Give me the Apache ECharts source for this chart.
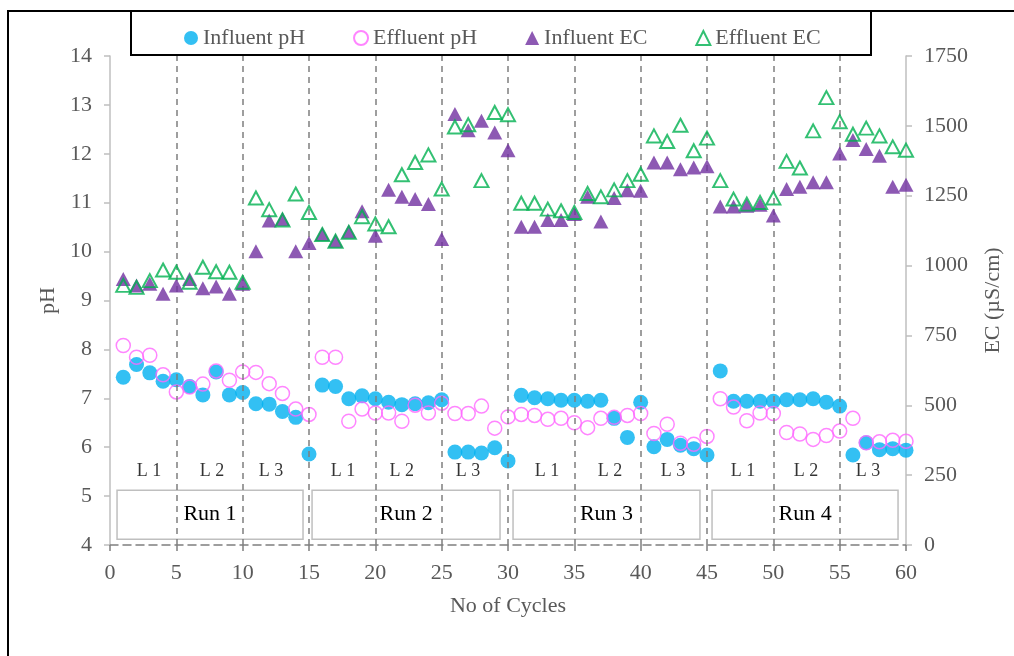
<!DOCTYPE html>
<html>
<head>
<meta charset="utf-8">
<title>pH and EC over cycles</title>
<script src="https://cdn.jsdelivr.net/npm/echarts@6/dist/echarts.min.js"></script>
<style>
  html, body { margin: 0; padding: 0; background: #fff; }
  #chart { width: 1014px; height: 656px; }
</style>
</head>
<body>
<div id="chart"></div>
<script>
// Cycle numbers 1..60
const cycles = [
  1, 2, 3, 4, 5, 6, 7, 8, 9, 10, 11, 12, 13, 14, 15,
  16, 17, 18, 19, 20, 21, 22, 23, 24, 25, 26, 27, 28, 29, 30,
  31, 32, 33, 34, 35, 36, 37, 38, 39, 40, 41, 42, 43, 44, 45,
  46, 47, 48, 49, 50, 51, 52, 53, 54, 55, 56, 57, 58, 59, 60
];

const influentPH = [
  7.43, 7.69, 7.52, 7.35, 7.38, 7.24, 7.07, 7.54, 7.07, 7.12, 6.89, 6.88, 6.73, 6.61, 5.86,
  7.27, 7.24, 6.99, 7.05, 6.99, 6.92, 6.87, 6.89, 6.91, 6.97, 5.90, 5.90, 5.88, 5.99, 5.72,
  7.06, 7.01, 6.99, 6.96, 6.96, 6.94, 6.96, 6.59, 6.20, 6.92, 6.01, 6.16, 6.04, 5.97, 5.84,
  7.56, 6.94, 6.94, 6.94, 6.94, 6.97, 6.97, 6.99, 6.92, 6.84, 5.84, 6.09, 5.95, 5.97, 5.94
];

const effluentPH = [
  8.08, 7.84, 7.88, 7.48, 7.13, 7.23, 7.29, 7.56, 7.37, 7.54, 7.53, 7.30, 7.10, 6.78, 6.67,
  7.84, 7.84, 6.53, 6.78, 6.70, 6.70, 6.53, 6.86, 6.70, 6.90, 6.69, 6.69, 6.84, 6.39, 6.62,
  6.67, 6.65, 6.57, 6.59, 6.50, 6.40, 6.59, 6.61, 6.65, 6.69, 6.28, 6.47, 6.08, 6.06, 6.22,
  6.99, 6.82, 6.54, 6.70, 6.69, 6.30, 6.27, 6.16, 6.24, 6.33, 6.59, 6.09, 6.11, 6.14, 6.12
];

// EC in µS/cm
const influentEC = [
  952, 929, 935, 899, 929, 952, 919, 925, 899, 935, 1051, 1161, 1167, 1051, 1081,
  1113, 1089, 1122, 1194, 1107, 1271, 1246, 1238, 1220, 1095, 1542, 1484, 1518, 1476, 1413,
  1139, 1139, 1163, 1163, 1185, 1246, 1158, 1242, 1270, 1268, 1369, 1369, 1345, 1351, 1355,
  1211, 1211, 1214, 1218, 1179, 1274, 1282, 1298, 1298, 1401, 1449, 1417, 1393, 1282, 1289
];

const effluentEC = [
  929, 922, 946, 984, 976, 940, 994, 978, 976, 940, 1242, 1200, 1163, 1256, 1190,
  1111, 1087, 1119, 1175, 1149, 1139, 1325, 1369, 1396, 1274, 1496, 1504, 1304, 1548, 1540,
  1223, 1223, 1202, 1196, 1190, 1258, 1246, 1271, 1304, 1327, 1464, 1444, 1502, 1411, 1456,
  1304, 1238, 1220, 1226, 1242, 1373, 1349, 1482, 1601, 1515, 1470, 1492, 1464, 1425, 1413
];

// Phase boundaries (every 5 cycles) and run / load annotations
const phaseBoundaries = [5, 10, 15, 20, 25, 30, 35, 40, 45, 50, 55];
const runNames = ['Run 1', 'Run 2', 'Run 3', 'Run 4'];
const runSpans = [[0.53, 14.55], [15.23, 29.4], [30.38, 44.47], [45.38, 59.4]];
const loadNames = ['L 1', 'L 2', 'L 3'];
const loadCentres = [
  [2.94, 7.69, 12.13],
  [17.56, 22.0, 26.98],
  [32.94, 37.69, 42.44],
  [47.71, 52.46, 57.13]
];

const FONT = "'Liberation Serif', 'Times New Roman', serif";
const GREY_TEXT = '#595959';
const AXIS_GREY = '#bfbfbf';

const pair = (ys) => cycles.map((c, i) => [c, ys[i]]);

const loadLabelData = [];
loadCentres.forEach((run) => run.forEach((x, j) => loadLabelData.push({ value: [x, 5.5], name: loadNames[j] })));

const chart = echarts.init(document.getElementById('chart'), null, { renderer: 'canvas' });

chart.setOption({
  animation: false,
  backgroundColor: '#fff',
  textStyle: { fontFamily: FONT },
  graphic: [
    { type: 'rect', silent: true, z: 0,
      shape: { x: 8, y: 11, width: 1100, height: 800 },
      style: { fill: 'none', stroke: '#000', lineWidth: 2 } },
    { type: 'rect', silent: true, z: 0,
      shape: { x: 131, y: 11, width: 740, height: 44 },
      style: { fill: '#fff', stroke: '#000', lineWidth: 2 } }
  ],
  legend: {
    data: [
      { name: 'Influent pH', icon: 'circle' },
      { name: 'Effluent pH', icon: 'circle' },
      { name: 'Influent EC', icon: 'triangle' },
      { name: 'Effluent EC', icon: 'triangle' }
    ],
    left: 179,
    top: 22,
    itemGap: 48,
    itemWidth: 14,
    itemHeight: 14,
    z: 5,
    textStyle: { fontFamily: FONT, fontSize: 22, color: GREY_TEXT }
  },
  grid: { left: 110, right: 108, top: 56, bottom: 111, containLabel: false },
  xAxis: {
    type: 'value',
    min: 0, max: 60, interval: 5,
    name: 'No of Cycles',
    nameLocation: 'middle',
    nameGap: 50,
    nameTextStyle: { fontFamily: FONT, fontSize: 22, color: GREY_TEXT },
    axisLine: { show: true, onZero: false, lineStyle: { color: '#7f7f7f', width: 1.5, type: [8, 5] } },
    axisTick: { show: true, length: 6, lineStyle: { color: '#7f7f7f', width: 1.5 } },
    axisLabel: { fontFamily: FONT, fontSize: 22, color: GREY_TEXT, margin: 17 },
    splitLine: { show: false }
  },
  yAxis: [
    {
      type: 'value',
      min: 4, max: 14, interval: 1,
      name: 'pH',
      nameLocation: 'middle',
      nameGap: 50,
      nameTextStyle: { fontFamily: FONT, fontSize: 22, color: GREY_TEXT },
      axisLine: { show: true, lineStyle: { color: AXIS_GREY, width: 1.5 } },
      axisTick: { show: true, length: 6, lineStyle: { color: AXIS_GREY, width: 1.5 } },
      axisLabel: { fontFamily: FONT, fontSize: 22, color: GREY_TEXT, margin: 18 },
      splitLine: { show: false }
    },
    {
      type: 'value',
      position: 'right',
      min: 0, max: 1750, interval: 250,
      name: 'EC (µS/cm)',
      nameLocation: 'middle',
      nameGap: 76,
      nameRotate: 90,
      nameTextStyle: { fontFamily: FONT, fontSize: 22, color: GREY_TEXT },
      axisLine: { show: true, lineStyle: { color: AXIS_GREY, width: 1.5 } },
      axisTick: { show: true, length: 6, lineStyle: { color: AXIS_GREY, width: 1.5 } },
      axisLabel: { fontFamily: FONT, fontSize: 22, color: GREY_TEXT, margin: 18, formatter: (v) => String(v) },
      splitLine: { show: false }
    }
  ],
  series: [
    {
      // phase boundaries and run boxes
      name: 'frame',
      type: 'scatter',
      data: [],
      silent: true,
      z: 1,
      markLine: {
        silent: true,
        symbol: 'none',
        label: { show: false },
        lineStyle: { color: '#7f7f7f', width: 1.5, type: [6, 5] },
        data: phaseBoundaries.map((x) => ({ xAxis: x }))
      },
      markArea: {
        silent: true,
        itemStyle: { color: 'rgba(0,0,0,0)', borderColor: AXIS_GREY, borderWidth: 1.5 },
        label: { show: true, position: 'inside', fontFamily: FONT, fontSize: 22, color: '#000' },
        data: runSpans.map((s, i) => [
          { name: runNames[i], xAxis: s[0], yAxis: 4.12 },
          { xAxis: s[1], yAxis: 5.12 }
        ])
      }
    },
    {
      name: 'loads',
      type: 'scatter',
      data: loadLabelData,
      symbolSize: 0,
      silent: true,
      z: 1,
      label: {
        show: true,
        position: 'inside',
        formatter: (p) => p.name,
        fontFamily: FONT, fontSize: 18, color: '#000'
      }
    },
    {
      name: 'Influent pH',
      type: 'scatter',
      yAxisIndex: 0,
      symbol: 'circle',
      symbolSize: 15,
      z: 3,
      itemStyle: { color: '#00b0f0' },
      data: pair(influentPH)
    },
    {
      name: 'Effluent pH',
      type: 'scatter',
      yAxisIndex: 0,
      symbol: 'circle',
      symbolSize: 14,
      z: 4,
      itemStyle: { color: 'rgba(255,255,255,0)', borderColor: '#ff66ff', borderWidth: 1.5 },
      data: pair(effluentPH)
    },
    {
      name: 'Influent EC',
      type: 'scatter',
      yAxisIndex: 1,
      symbol: 'triangle',
      symbolSize: [15, 14],
      z: 5,
      itemStyle: { color: '#7030a0' },
      data: pair(influentEC)
    },
    {
      name: 'Effluent EC',
      type: 'scatter',
      yAxisIndex: 1,
      symbol: 'triangle',
      symbolSize: [14, 13],
      z: 6,
      itemStyle: { color: 'rgba(255,255,255,0)', borderColor: '#00b050', borderWidth: 2 },
      data: pair(effluentEC)
    }
  ]
});
</script>
</body>
</html>
